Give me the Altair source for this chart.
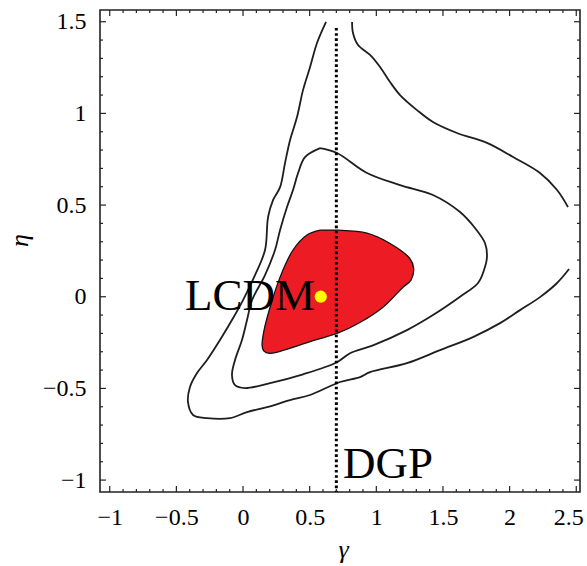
import altair as alt
import pandas as pd

# ---------------- values (gamma, eta) ----------------
# inner (filled) confidence region, closed
red_gamma = [0.58, 0.71, 0.93, 1.10, 1.25, 1.28, 1.26, 1.20, 1.05, 0.88, 0.71, 0.53,
             0.35, 0.20, 0.155, 0.143, 0.158, 0.203, 0.278, 0.375, 0.48, 0.58]
red_eta = [0.363, 0.363, 0.347, 0.292, 0.210, 0.156, 0.090, 0.052, -0.057, -0.139, -0.199, -0.238,
           -0.281, -0.309, -0.295, -0.265, -0.182, -0.057, 0.107, 0.255, 0.337, 0.363]

# middle contour, closed
mid_gamma = [0.578, 0.705, 0.930, 1.178, 1.425, 1.628, 1.740, 1.815, 1.830, 1.808, 1.763, 1.628,
             1.425, 1.230, 0.975, 0.803, 0.705, 0.450, 0.203, 0.015, -0.060, -0.083, -0.060,
             -0.008, 0.030, 0.068, 0.165, 0.240, 0.278, 0.330, 0.375, 0.413, 0.465, 0.578]
mid_eta = [0.811, 0.784, 0.675, 0.609, 0.555, 0.462, 0.375, 0.293, 0.217, 0.146, 0.075, 0.000,
           -0.100, -0.182, -0.265, -0.308, -0.357, -0.423, -0.471, -0.498, -0.482, -0.427, -0.345,
           -0.236, -0.127, -0.018, 0.118, 0.255, 0.364, 0.489, 0.582, 0.675, 0.762, 0.811]

# outer contour, left/lower branch (open)
outa_gamma = [0.623, 0.555, 0.503, 0.450, 0.405, 0.353, 0.315, 0.278, 0.225, 0.188, 0.165, 0.090,
              0.000, -0.083, -0.173, -0.270, -0.345, -0.398, -0.413, -0.375, -0.270, -0.098, 0.030,
              0.180, 0.353, 0.503, 0.728, 0.878, 0.953, 1.230, 1.478, 1.725, 1.928, 2.078, 2.228,
              2.356, 2.446]
outa_eta = [1.499, 1.384, 1.253, 1.127, 0.980, 0.855, 0.729, 0.598, 0.527, 0.435, 0.255, 0.118,
            -0.018, -0.127, -0.236, -0.345, -0.416, -0.492, -0.574, -0.645, -0.662, -0.662, -0.629,
            -0.602, -0.564, -0.536, -0.465, -0.438, -0.411, -0.362, -0.291, -0.220, -0.144, -0.073,
            -0.002, 0.075, 0.151]

# outer contour, upper/right branch (open)
outb_gamma = [0.818, 0.825, 0.863, 0.953, 1.028, 1.103, 1.178, 1.305, 1.425, 1.605, 1.830,
              2.026, 2.228, 2.356, 2.438]
outb_eta = [1.499, 1.439, 1.373, 1.319, 1.253, 1.171, 1.100, 1.018, 0.953, 0.893, 0.839,
            0.762, 0.675, 0.582, 0.489]

lcdm_gamma = [0.583]
lcdm_eta = [0.0]

dgp_gamma = [0.70]
dgp_eta_top = [1.466]

label_text = ["LCDM", "DGP"]
label_gamma = [0.540, 0.750]
label_eta = [-0.073, -0.989]
label_align = ["right", "left"]

x_ticks = [-1, -0.5, 0, 0.5, 1, 1.5, 2, 2.5]
y_ticks = [-1, -0.5, 0, 0.5, 1, 1.5]
x_minor = [round(-1 + 0.1 * i, 1) for i in range(36) if i % 5 != 0]
y_minor = [round(-1 + 0.1 * i, 1) for i in range(26) if i % 5 != 0]

# ---------------- tables ----------------
def path(gs, es, name):
    return pd.DataFrame({"g": gs, "e": es, "i": list(range(len(gs))), "seg": name})

red_df = path(red_gamma, red_eta, "red")
lines_df = pd.concat([path(mid_gamma, mid_eta, "mid"),
                      path(outa_gamma, outa_eta, "outa"),
                      path(outb_gamma, outb_eta, "outb")], ignore_index=True)
dot_df = pd.DataFrame({"g": lcdm_gamma, "e": lcdm_eta})
dgp_df = pd.DataFrame({"g": dgp_gamma, "e": dgp_eta_top})
lab_df = pd.DataFrame({"t": label_text, "g": label_gamma, "e": label_eta, "a": label_align})
xmaj_df = pd.DataFrame({"v": x_ticks})
ymaj_df = pd.DataFrame({"v": y_ticks})
xmin_df = pd.DataFrame({"v": x_minor})
ymin_df = pd.DataFrame({"v": y_minor})

W, H = 480, 482
FONT = "Liberation Serif"
XS = alt.Scale(domain=[-1.073, 2.528], nice=False, zero=False)
YS = alt.Scale(domain=[-1.065, 1.564], nice=False, zero=False)

X_AX = alt.Axis(values=x_ticks, format="~g", ticks=False, domain=False, grid=False,
                labelFont=FONT, labelFontSize=24, labelColor="black", labelPadding=13,
                labelFlush=5, labelFlushOffset=7, labelOverlap=False,
                title="γ", titleFont=FONT, titleFontSize=26, titleFontStyle="italic",
                titleFontWeight="normal", titleColor="black", titleX=243, titleY=65,
                titleBaseline="alphabetic", titleAlign="center")
Y_AX = alt.Axis(values=y_ticks, format="~g", ticks=False, domain=False, grid=False,
                labelFont=FONT, labelFontSize=24, labelColor="black", labelPadding=14,
                labelFlush=False, labelOverlap=False,
                title="η", titleFont=FONT, titleFontSize=26, titleFontStyle="italic",
                titleFontWeight="normal", titleColor="black", titleX=-73, titleY=230,
                titleBaseline="alphabetic", titleAlign="center", titleAngle=270)


def X(f):
    return alt.X(f, type="quantitative", scale=XS, axis=X_AX)


def Y(f):
    return alt.Y(f, type="quantitative", scale=YS, axis=Y_AX)


red = alt.Chart(red_df).mark_line(
    fill="#ed1c24", stroke="#111111", strokeWidth=1.3, interpolate="catmull-rom"
).encode(x=X("g"), y=Y("e"), order=alt.Order("i:Q"))

contours = alt.Chart(lines_df).mark_line(
    stroke="#1e1e1e", strokeWidth=1.8, interpolate="catmull-rom"
).encode(x=X("g"), y=Y("e"), detail="seg:N", order=alt.Order("i:Q"))

dgp = alt.Chart(dgp_df).mark_rule(
    color="black", strokeWidth=3, strokeDash=[2.6, 2.6]
).encode(x=X("g"), y=Y("e"), y2=alt.value(H))

dot = alt.Chart(dot_df).mark_circle(size=150, color="#ffff00", opacity=1).encode(
    x=X("g"), y=Y("e"))

texts = alt.layer(*[
    alt.Chart(lab_df[lab_df["a"] == a]).mark_text(
        font=FONT, fontSize=45, color="black", align=a, baseline="alphabetic"
    ).encode(x=X("g"), y=Y("e"), text="t:N")
    for a in ["right", "left"]
])

TC = "#222222"
tick_layers = [
    alt.Chart(xmaj_df).mark_rule(color=TC, strokeWidth=1.2).encode(x=X("v"), y=alt.value(H), y2=alt.value(H - 6)),
    alt.Chart(xmaj_df).mark_rule(color=TC, strokeWidth=1.2).encode(x=X("v"), y=alt.value(0), y2=alt.value(6)),
    alt.Chart(xmin_df).mark_rule(color=TC, strokeWidth=1.2).encode(x=X("v"), y=alt.value(H), y2=alt.value(H - 3)),
    alt.Chart(xmin_df).mark_rule(color=TC, strokeWidth=1.2).encode(x=X("v"), y=alt.value(0), y2=alt.value(3)),
    alt.Chart(ymaj_df).mark_rule(color=TC, strokeWidth=1.2).encode(y=Y("v"), x=alt.value(0), x2=alt.value(6)),
    alt.Chart(ymaj_df).mark_rule(color=TC, strokeWidth=1.2).encode(y=Y("v"), x=alt.value(W), x2=alt.value(W - 6)),
    alt.Chart(ymin_df).mark_rule(color=TC, strokeWidth=1.2).encode(y=Y("v"), x=alt.value(0), x2=alt.value(3)),
    alt.Chart(ymin_df).mark_rule(color=TC, strokeWidth=1.2).encode(y=Y("v"), x=alt.value(W), x2=alt.value(W - 3)),
]

chart = alt.layer(
    red, contours, dgp, dot, texts, *tick_layers
).properties(
    width=W, height=H,
    padding={"left": 100, "top": 10, "right": 7, "bottom": 74},
    autosize=alt.AutoSizeParams(type="none"),
).configure_view(stroke="#222222", strokeWidth=1.6)

chart.save("out.html", embed_options={"renderer": "svg", "actions": False})
